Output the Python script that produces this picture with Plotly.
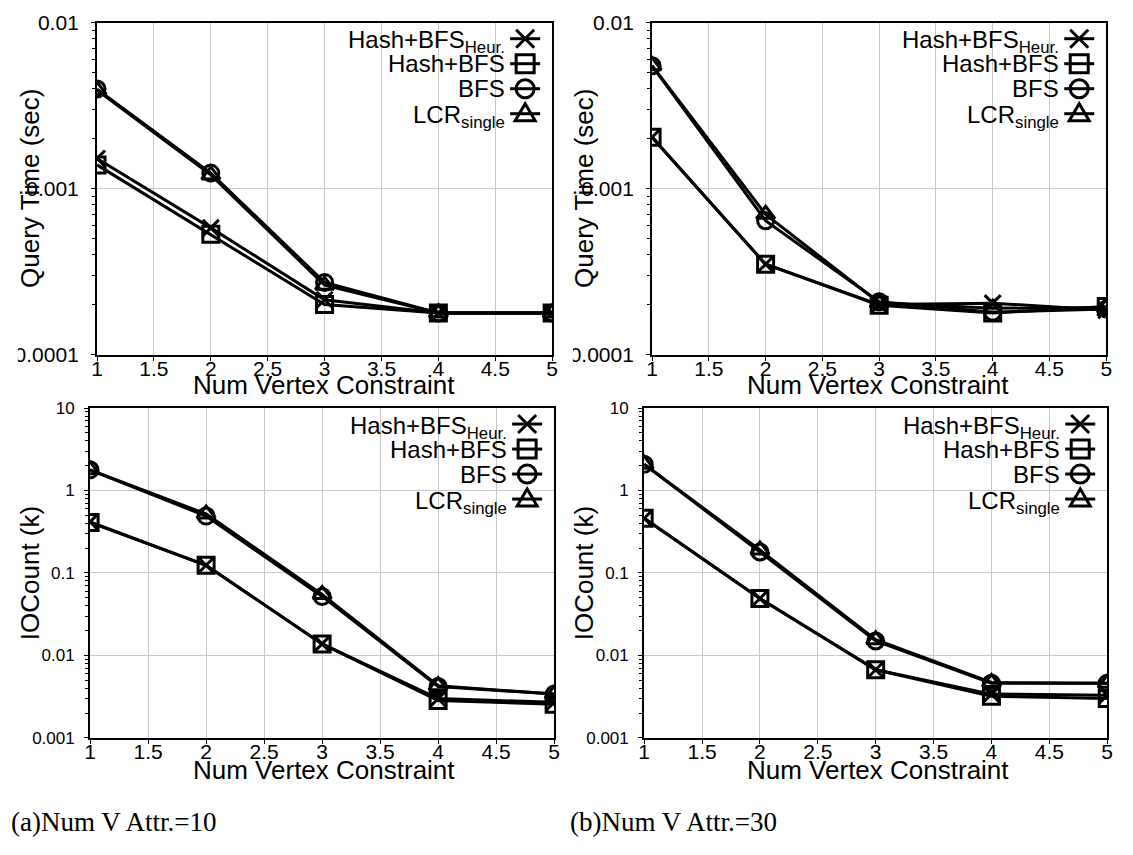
import plotly.graph_objects as go

x_vals = [1, 2, 3, 4, 5]
series_names = ["Hash+BFS<sub>Heur.</sub>", "Hash+BFS", "BFS", "LCR<sub>single</sub>"]

# Query time (sec), Num V Attr. = 10
qt10_heur = [0.00152, 0.00058, 0.000214, 0.000178, 0.000178]
qt10_hash = [0.00139, 0.00053, 0.000200, 0.000178, 0.000178]
qt10_bfs = [0.00398, 0.00124, 0.000272, 0.000178, 0.000178]
qt10_lcr = [0.00392, 0.00121, 0.000262, 0.000178, 0.000178]

# Query time (sec), Num V Attr. = 30
qt30_heur = [0.00204, 0.00035, 0.000200, 0.000204, 0.000185]
qt30_hash = [0.00204, 0.00035, 0.000198, 0.000178, 0.000195]
qt30_bfs = [0.00550, 0.00064, 0.000208, 0.000180, 0.000188]
qt30_lcr = [0.00550, 0.00070, 0.000205, 0.000190, 0.000192]

# IOCount (k), Num V Attr. = 10
io10_heur = [0.417, 0.124, 0.0138, 0.0030, 0.0027]
io10_hash = [0.410, 0.124, 0.0138, 0.00285, 0.00256]
io10_bfs = [1.78, 0.49, 0.052, 0.0042, 0.0034]
io10_lcr = [1.78, 0.52, 0.055, 0.0043, 0.0034]

# IOCount (k), Num V Attr. = 30
io30_heur = [0.46, 0.049, 0.0067, 0.0034, 0.0033]
io30_hash = [0.46, 0.049, 0.0067, 0.0032, 0.0030]
io30_bfs = [2.08, 0.18, 0.0150, 0.0046, 0.0046]
io30_lcr = [2.08, 0.19, 0.0155, 0.0047, 0.0046]

x_ticks = [1, 1.5, 2, 2.5, 3, 3.5, 4, 4.5, 5]
x_ticktext = ["1", "1.5", "2", "2.5", "3", "3.5", "4", "4.5", "5"]
qt_ticks = [0.0001, 0.001, 0.01]
qt_ticktext = ["0.0001", "0.001", "0.01"]
io_ticks = [0.001, 0.01, 0.1, 1, 10]
io_ticktext = ["0.001", "0.01", "0.1", "1", "10"]

W, H = 1133, 855
FONT = "Liberation Sans, Arial, sans-serif"
symbols = ["x-thin-open", "square-open", "circle-open", "triangle-up-open"]

panels = [
    ("", [qt10_heur, qt10_hash, qt10_bfs, qt10_lcr], (92, 552), (11, 352), qt_ticks, qt_ticktext, [-4, -2], 21, 8),
    ("2", [qt30_heur, qt30_hash, qt30_bfs, qt30_lcr], (653, 1112), (11, 352), qt_ticks, qt_ticktext, [-4, -2], 21, 8),
    ("3", [io10_heur, io10_hash, io10_bfs, io10_lcr], (85, 554), (407, 746), io_ticks, io_ticktext, [-3, 1], 17, 6),
    ("4", [io30_heur, io30_hash, io30_bfs, io30_lcr], (645, 1113), (407, 746), io_ticks, io_ticktext, [-3, 1], 17, 6),
]

fig = go.Figure()
layout = dict(
    width=W, height=H, margin=dict(l=0, r=0, t=0, b=0),
    paper_bgcolor="white", plot_bgcolor="white", showlegend=False,
    font=dict(family=FONT, color="black"),
)
shapes = []
annotations = []

for suffix, data, (xl, xr), (yt, yb), yt_vals, yt_text, yrng, yfs, ystand in panels:
    xa = "x" + suffix
    ya = "y" + suffix
    for name, sym, ys in zip(series_names, symbols, data):
        fig.add_trace(go.Scatter(
            x=x_vals, y=ys, mode="lines+markers", name=name,
            xaxis=xa, yaxis=ya,
            line=dict(color="black", width=3),
            marker=dict(symbol=sym, size=16, color="black",
                        line=dict(color="black", width=3)),
        ))
    layout["xaxis" + suffix] = dict(
        domain=[xl / W, xr / W], anchor=ya, range=[1, 5],
        tickvals=x_ticks, ticktext=x_ticktext, tickfont=dict(size=21),
        showgrid=True, gridcolor="#c8c8c8", gridwidth=1,
        showline=True, linecolor="black", linewidth=2, mirror=True,
        ticks="outside", ticklen=4, tickcolor="black", zeroline=False,
        ticklabelstandoff=-10,
    )
    layout["yaxis" + suffix] = dict(
        domain=[1 - yb / H, 1 - yt / H], anchor=xa, type="log", range=yrng,
        tickvals=yt_vals, ticktext=yt_text, tickfont=dict(size=yfs),
        showgrid=True, gridcolor="#c8c8c8", gridwidth=1,
        showline=True, linecolor="black", linewidth=2, mirror=True,
        ticks="outside", ticklen=4, tickcolor="black", zeroline=False,
        ticklabelstandoff=ystand,
        minor=dict(ticks="outside", ticklen=3, tickcolor="black", showgrid=False, dtick="D1"),
    )
    # legend (text right-aligned, key to the right)
    top_off = 16
    for i, (name, sym) in enumerate(zip(series_names, symbols)):
        dy = -(top_off + 25 * i)
        sub_shift = -3 if "<sub>" in name else 0
        annotations.append(dict(
            xref=xa + " domain", yref=ya + " domain", x=1, y=1,
            xanchor="right", yanchor="middle", xshift=-45, yshift=dy + sub_shift,
            text=name, showarrow=False, font=dict(size=24, family=FONT),
        ))
        common = dict(xref=xa + " domain", yref=ya + " domain",
                      xsizemode="pixel", ysizemode="pixel",
                      xanchor=1, yanchor=1, line=dict(color="black", width=3))
        shapes.append(dict(type="line", x0=-42, x1=-12, y0=dy, y1=dy, **common))
        cx = -27
        r = 9
        if sym.startswith("x"):
            path = f"M{cx-r},{dy-r}L{cx+r},{dy+r}M{cx-r},{dy+r}L{cx+r},{dy-r}"
            shapes.append(dict(type="path", path=path, **common))
        elif sym.startswith("square"):
            path = f"M{cx-r},{dy-r}L{cx+r},{dy-r}L{cx+r},{dy+r}L{cx-r},{dy+r}Z"
            shapes.append(dict(type="path", path=path, **common))
        elif sym.startswith("circle"):
            shapes.append(dict(type="circle", x0=cx - r, x1=cx + r, y0=dy - r, y1=dy + r, **common))
        else:
            path = f"M{cx-r-1},{dy-r+2}L{cx+r+1},{dy-r+2}L{cx},{dy+r+1}Z"
            shapes.append(dict(type="path", path=path, **common))

# canvas-edge clipping of the leftmost tick labels, as in the original
shapes.append(dict(type="rect", xref="paper", yref="paper", x0=0, x1=12 / W, y0=0, y1=1,
                   fillcolor="white", line=dict(width=0), layer="above"))
shapes.append(dict(type="rect", xref="paper", yref="paper", x0=563 / W, x1=573 / W,
                   y0=1 - 366 / H, y1=1 - 336 / H,
                   fillcolor="white", line=dict(width=0), layer="above"))

# axis titles
for xc, yc in [(321, 383), (881, 383), (321, 779), (881, 779)]:
    annotations.append(dict(xref="paper", yref="paper", x=xc / W, y=1 - yc / H,
                            xanchor="center", yanchor="middle", showarrow=False,
                            text="Num Vertex Constraint", font=dict(size=26, family=FONT)))
for xc, yc, t in [(24, 181, "Query Time (sec)"), (584, 181, "Query Time (sec)"),
                  (25, 577, "IOCount (k)"), (585, 577, "IOCount (k)")]:
    annotations.append(dict(xref="paper", yref="paper", x=xc / W, y=1 - yc / H,
                            xanchor="center", yanchor="middle", showarrow=False, textangle=-90,
                            text=t, font=dict(size=26, family=FONT)))
# captions
for xl, t in [(3, "(a)Num V Attr.=10"), (568, "(b)Num V Attr.=30")]:
    annotations.append(dict(xref="paper", yref="paper", x=xl / W, y=1 - 832 / H,
                            xanchor="left", yanchor="middle", showarrow=False,
                            text=t, font=dict(size=27, family="Liberation Serif, DejaVu Serif, serif")))

layout["shapes"] = shapes
layout["annotations"] = annotations
fig.update_layout(**layout)
fig.write_html("out.html")
